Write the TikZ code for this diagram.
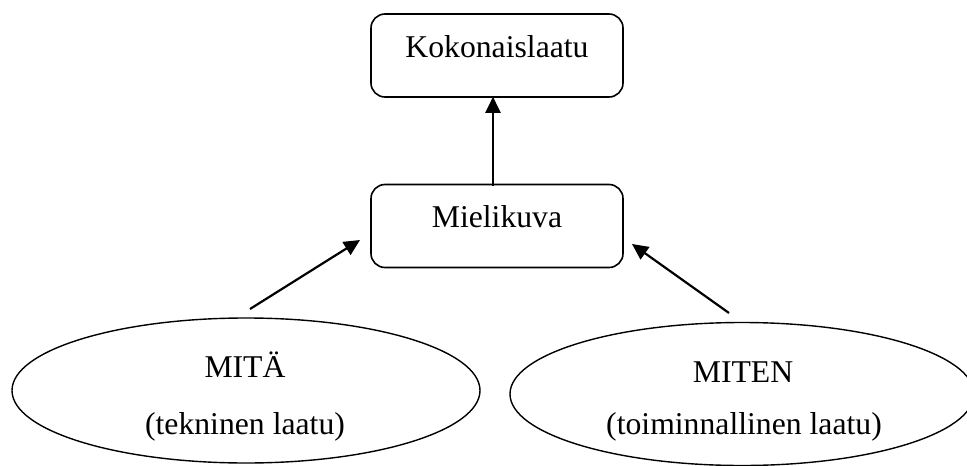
\documentclass[tikz,border=0pt]{standalone}
\usepackage{fontspec}
\setmainfont{Liberation Serif}
\usetikzlibrary{arrows.meta,shapes.geometric}
\begin{document}
\begin{tikzpicture}[x=1pt,y=-1pt,
  box/.style={draw,line width=1.6pt,rounded corners=14pt,minimum width=252pt,minimum height=83pt,inner sep=0pt,
    text height=22pt,text depth=19pt,font=\fontsize{31.7}{38}\selectfont},
  oval/.style={draw,ellipse,line width=1.4pt,inner sep=0pt},
  lbl/.style={anchor=base,inner sep=0pt,font=\fontsize{31.7}{38}\selectfont},
  arr/.style={line width=2.2pt,-{Triangle[length=16pt,width=15pt]}}]
\useasboundingbox (0,0) rectangle (967,466);
\node[box] (top) at (497,55.5) {Kokonaislaatu};
\node[box] (mid) at (497,226) {Mielikuva};
\node[oval,minimum width=468pt,minimum height=145pt] (mita) at (246,390.5) {};
\node[oval,minimum width=464pt,minimum height=143pt] (miten) at (742,394) {};
\node[lbl] (mitaA) at (245,377) {MITÄ};
\node[lbl] (mitaB) at (245,434) {(tekninen laatu)};
\node[lbl] (mitenA) at (743,382) {MITEN};
\node[lbl] (mitenB) at (744,434) {(toiminnallinen laatu)};
\coordinate (l1) at (250,309);
\coordinate (l2) at (360,240);
\coordinate (r1) at (729,313);
\coordinate (r2) at (632,244);
\draw[arr] ([xshift=-4pt,yshift=-2pt]mid.north) -- ([xshift=-4pt,yshift=1pt]top.south);
\draw[arr] (l1) -- (l2);
\draw[arr] (r1) -- (r2);
\end{tikzpicture}
\end{document}
